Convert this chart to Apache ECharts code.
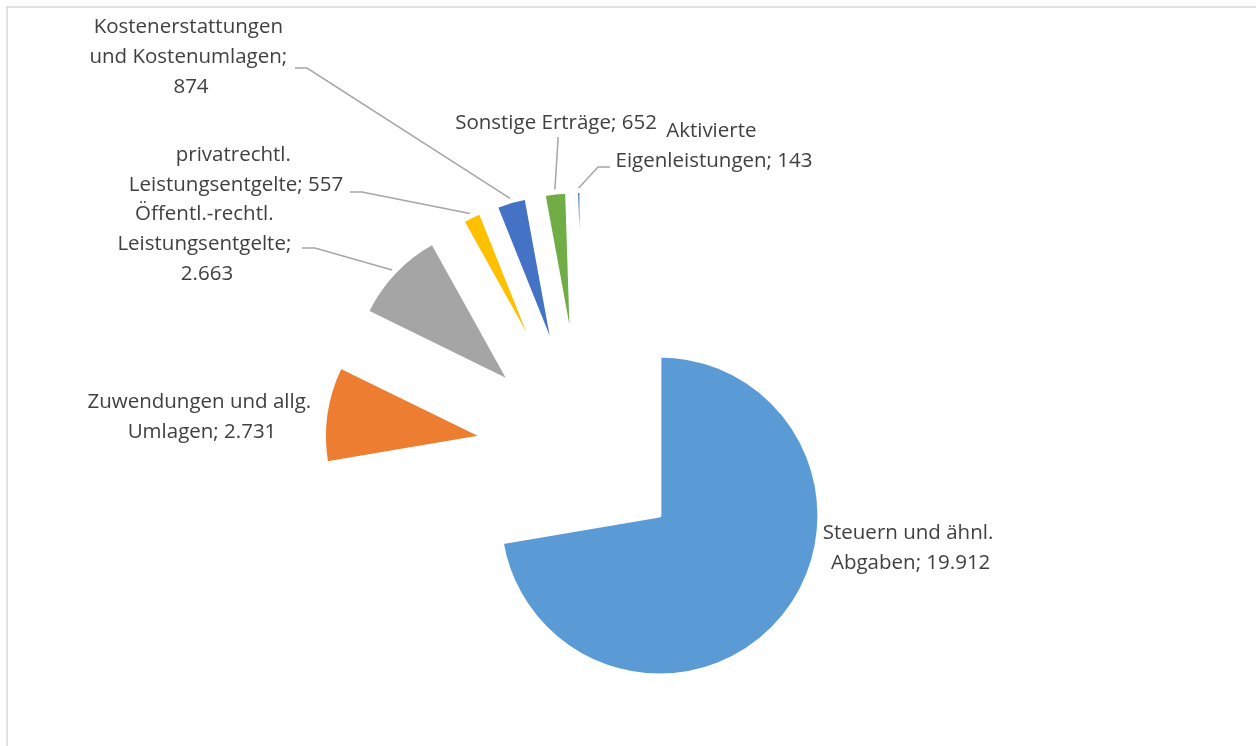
<!DOCTYPE html>
<html>
<head>
<meta charset="utf-8">
<script src="https://cdn.jsdelivr.net/npm/echarts@6/dist/echarts.min.js"></script>
<style>
  html, body { margin: 0; padding: 0; background: #fff; }
  #chart { width: 1256px; height: 746px; }
</style>
</head>
<body>
<div id="chart"></div>
<script>
// Ertragsarten (in Tsd. EUR)
const categories = [
  'Steuern und ähnl. Abgaben',
  'Zuwendungen und allg. Umlagen',
  'Öffentl.-rechtl. Leistungsentgelte',
  'privatrechtl. Leistungsentgelte',
  'Kostenerstattungen und Kostenumlagen',
  'Sonstige Erträge',
  'Aktivierte Eigenleistungen'
];
const values = [19912, 2731, 2663, 557, 874, 652, 143];
const colors = ['#5B9BD5', '#ED7D31', '#A5A5A5', '#FFC000', '#4472C4', '#70AD47', '#255E91'];

// Pie geometry (all slices pulled out from the centre)
const CENTER = [583, 451];
const RADIUS = 160;
const EXPLODE = 100;

// Wrap width per label and where each label block sits
const labelWidths = [182, 240, 188, 228, 215, null, 215];
const labelPos = [
  { x: 908, y: 548 },
  { x: 202, y: 417 },
  { x: 207, y: 244, line: [[315, 248], [302, 248]] },
  { x: 236, y: 170, line: [[362, 192], [350, 192]] },
  { x: 191, y: 57,  line: [[307, 68], [295, 68]] },
  { x: 556, y: 123, line: [[558, 140], [558, 137]] },
  { x: 714, y: 146, line: [[598, 167], [610, 167]] }
];

const total = values.reduce((a, b) => a + b, 0);

// Point just outside the outer arc of exploded slice i, at its middle angle
function arcAnchor(i) {
  let before = 0;
  for (let k = 0; k < i; k++) before += values[k];
  const mid = (before + values[i] / 2) / total * Math.PI * 2; // clockwise from 12 o'clock
  const ux = Math.sin(mid), uy = -Math.cos(mid);
  const r = EXPLODE + RADIUS + 3;
  return [CENTER[0] + ux * r, CENTER[1] + uy * r];
}

const fmt = v => v.toLocaleString('de-DE');

const chart = echarts.init(document.getElementById('chart'), null, { renderer: 'canvas' });

const seriesData = categories.map((name, i) => ({ name: name, value: values[i] }));

chart.setOption({
  animation: false,
  backgroundColor: '#fff',
  graphic: [{
    type: 'rect',
    shape: { x: 7, y: 7, width: 1400, height: 900 },
    style: { fill: 'none', stroke: '#D9D9D9', lineWidth: 1.5 },
    silent: true
  }],
  series: [
    {
      // the slices
      type: 'pie',
      center: CENTER,
      radius: RADIUS,
      startAngle: 90,
      clockwise: true,
      selectedMode: 'multiple',
      selectedOffset: EXPLODE,
      emphasis: { disabled: true },
      silent: true,
      itemStyle: { borderColor: '#fff', borderWidth: 4 },
      select: { itemStyle: { borderColor: '#fff', borderWidth: 4 } },
      label: { show: false },
      labelLine: { show: false },
      data: seriesData.map((d, i) => ({
        name: d.name,
        value: d.value,
        selected: true,
        itemStyle: { color: colors[i] }
      }))
    },
    {
      // data labels with leader lines
      type: 'pie',
      center: CENTER,
      radius: RADIUS,
      startAngle: 90,
      clockwise: true,
      silent: true,
      emphasis: { disabled: true },
      avoidLabelOverlap: false,
      itemStyle: { color: 'rgba(0,0,0,0)', borderWidth: 0 },
      label: {
        show: true,
        position: 'outside',
        color: '#404040',
        fontFamily: '"Open Sans", "Noto Sans", sans-serif',
        fontSize: 20.5,
        lineHeight: 30,
        align: 'center',
        overflow: 'break',
        formatter: p => p.name + '; ' + fmt(p.value)
      },
      labelLine: {
        show: true,
        lineStyle: { color: '#A6A6A6', width: 1.5 }
      },
      labelLayout: function (params) {
        const i = params.dataIndex;
        const pos = labelPos[i];
        const out = { x: pos.x, y: pos.y, align: 'center', verticalAlign: 'middle' };
        if (pos.line) {
          out.labelLinePoints = [arcAnchor(i), pos.line[0], pos.line[1]];
        }
        return out;
      },
      data: seriesData.map((d, i) => ({
        name: d.name,
        value: d.value,
        label: labelWidths[i] ? { width: labelWidths[i] } : {},
        labelLine: { show: !!labelPos[i].line }
      }))
    }
  ]
});
</script>
</body>
</html>
